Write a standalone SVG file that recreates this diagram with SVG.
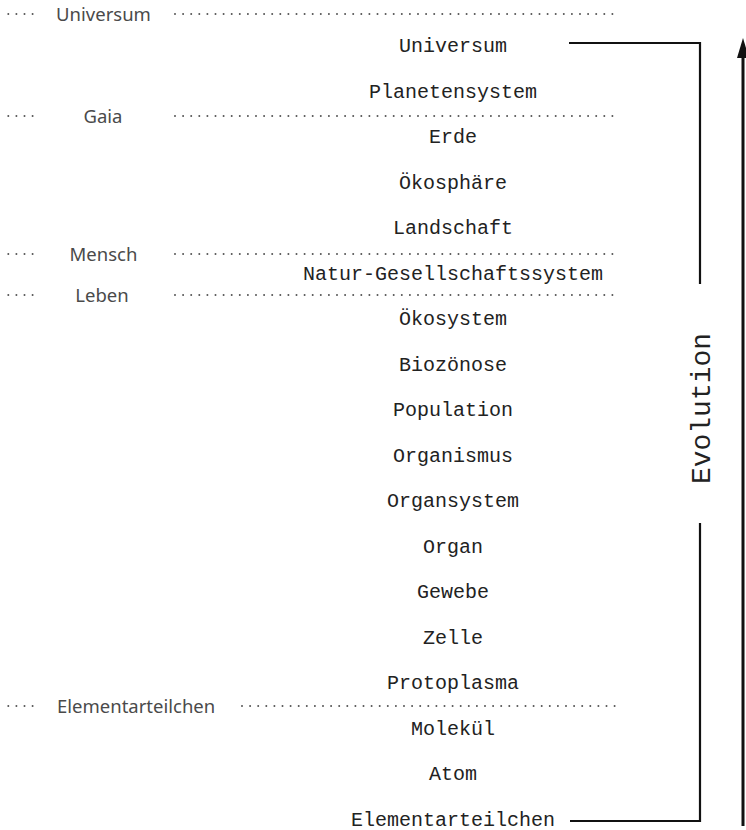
<svg xmlns="http://www.w3.org/2000/svg" width="746" height="830" viewBox="0 0 746 830">
<style>
.lvl{font-family:"Liberation Mono","Courier New",monospace;font-size:20px;fill:#222;text-anchor:middle}
.lab{font-family:"Noto Sans","Lato",sans-serif;font-size:18.5px;fill:#4a4a4a;text-anchor:middle}
.dot{stroke:#555;stroke-width:2;stroke-linecap:round;stroke-dasharray:0 8.1;fill:none}
.br{stroke:#111;stroke-width:2.2;fill:none}
.evo{font-family:"Liberation Mono","Courier New",monospace;font-size:28px;fill:#222;text-anchor:middle}
</style>
<rect width="746" height="830" fill="#fff"/>
<g id="levels">
<g id="n-universum"><text class="lvl" x="453" y="52">Universum</text></g>
<g id="n-planetensystem"><text class="lvl" x="453" y="97.5">Planetensystem</text></g>
<g id="n-erde"><text class="lvl" x="453" y="143">Erde</text></g>
<g id="n-oekosphaere"><text class="lvl" x="453" y="188.5">Ökosphäre</text></g>
<g id="n-landschaft"><text class="lvl" x="453" y="234">Landschaft</text></g>
<g id="n-natur"><text class="lvl" x="453" y="279.5">Natur-Gesellschaftssystem</text></g>
<g id="n-oekosystem"><text class="lvl" x="453" y="325">Ökosystem</text></g>
<g id="n-biozoenose"><text class="lvl" x="453" y="370.5">Biozönose</text></g>
<g id="n-population"><text class="lvl" x="453" y="416">Population</text></g>
<g id="n-organismus"><text class="lvl" x="453" y="461.5">Organismus</text></g>
<g id="n-organsystem"><text class="lvl" x="453" y="507">Organsystem</text></g>
<g id="n-organ"><text class="lvl" x="453" y="552.5">Organ</text></g>
<g id="n-gewebe"><text class="lvl" x="453" y="598">Gewebe</text></g>
<g id="n-zelle"><text class="lvl" x="453" y="643.5">Zelle</text></g>
<g id="n-protoplasma"><text class="lvl" x="453" y="689">Protoplasma</text></g>
<g id="n-molekuel"><text class="lvl" x="453" y="734.5">Molekül</text></g>
<g id="n-atom"><text class="lvl" x="453" y="780">Atom</text></g>
<g id="n-elementarteilchen"><text class="lvl" x="453" y="825.5">Elementarteilchen</text></g>
</g>
<g id="left-labels">
<g id="l-universum"><path class="dot" d="M8.3,14 H33"/><text class="lab" x="103.5" y="21">Universum</text><path class="dot" d="M175,14 H620"/></g>
<g id="l-gaia"><path class="dot" d="M8.3,116 H33"/><text class="lab" x="103" y="123">Gaia</text><path class="dot" d="M175,116 H620"/></g>
<g id="l-mensch"><path class="dot" d="M8.3,254 H33"/><text class="lab" x="103.5" y="261">Mensch</text><path class="dot" d="M175,254 H620"/></g>
<g id="l-leben"><path class="dot" d="M8.3,295 H33"/><text class="lab" x="102" y="302">Leben</text><path class="dot" d="M175,295 H620"/></g>
<g id="l-elementarteilchen"><path class="dot" d="M8.3,706 H33"/><text class="lab" x="57" y="713" style="text-anchor:start">Elementarteilchen</text><path class="dot" d="M242,706 H620"/></g>
</g>
<g id="connectors">
<path class="br" d="M569,43 H700 V284"/>
<path class="br" d="M570,821 H700 V523"/>
<path d="M743,826 V54" stroke="#111" stroke-width="3" fill="none"/>
<polygon points="743,38 737,58 749,58" fill="#111"/>
</g>
<g id="evolution"><text class="evo" transform="translate(710,408.5) rotate(-90)">Evolution</text></g>
</svg>
